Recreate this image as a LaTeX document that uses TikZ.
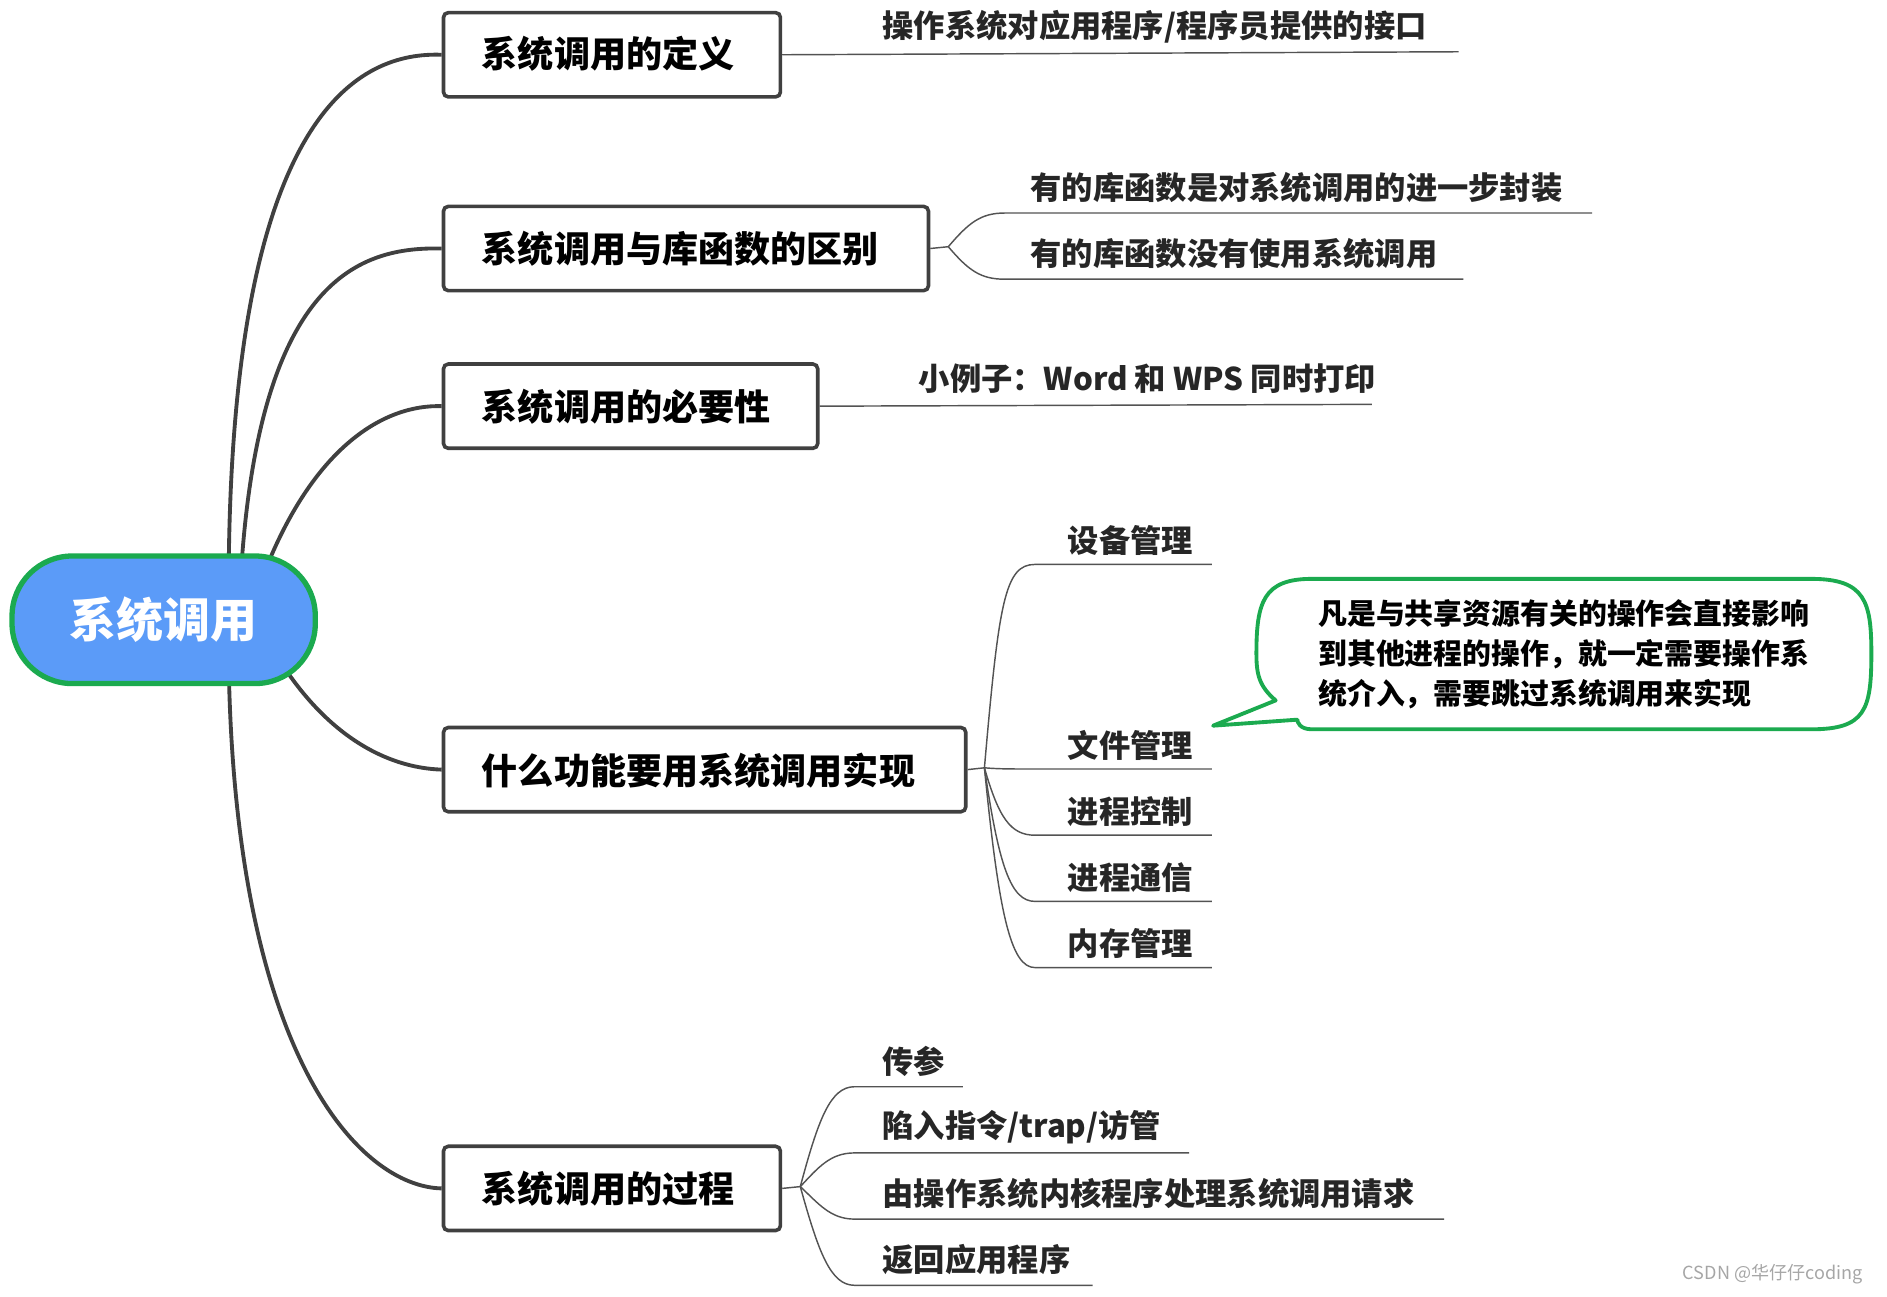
\documentclass[tikz,border=0pt]{standalone}
\usepackage{fontspec}
\setmainfont{Noto Sans CJK SC}
\definecolor{rootblue}{HTML}{5B9BF8}
\definecolor{gr}{HTML}{1BAA4F}
\definecolor{dk}{HTML}{404040}
\begin{document}
\begin{tikzpicture}[x=0.5pt,y=-0.5pt,
  box/.style={draw=dk,line width=1.5pt,rounded corners=2pt,fill=white,anchor=north west,inner sep=0,font=\fontsize{15}{18}\selectfont\bfseries},
  leaf/.style={anchor=west,inner sep=0,font=\fontsize{13}{16}\selectfont\bfseries,text=black!85},
  br/.style={draw=dk,line width=1.6pt},
  ln/.style={draw=dk!90,line width=0.6pt}]
\useasboundingbox (0,0) rectangle (1568,1077);
% boxes
\node[box,minimum width=140pt,minimum height=35pt] (b1) at (367,9) {};
\node[anchor=west,inner sep=0,font=\fontsize{15}{18}\selectfont\bfseries] at (400,45) {系统调用的定义};
\node[box,minimum width=201.5pt,minimum height=35pt] (b2) at (367,170) {};
\node[anchor=west,inner sep=0,font=\fontsize{15}{18}\selectfont\bfseries] at (400,207) {系统调用与库函数的区别};
\node[box,minimum width=155.5pt,minimum height=35pt] (b3) at (367,301) {};
\node[anchor=west,inner sep=0,font=\fontsize{15}{18}\selectfont\bfseries] at (400,338) {系统调用的必要性};
\node[box,minimum width=217pt,minimum height=35pt] (b4) at (367,603) {};
\node[anchor=west,inner sep=0,font=\fontsize{15}{18}\selectfont\bfseries] at (400,640) {什么功能要用系统调用实现};
\node[box,minimum width=140pt,minimum height=35pt] (b5) at (367,951) {};
\node[anchor=west,inner sep=0,font=\fontsize{15}{18}\selectfont\bfseries] at (400,988) {系统调用的过程};
% branches root -> boxes
\draw[br] (190,480) .. controls (192,90) and (300,43) .. (b1.west);
\draw[br] (200,480) .. controls (215,230) and (300,205) .. (b2.west);
\draw[br] (218,480) .. controls (260,370) and (320,336) .. (b3.west);
\draw[br] (230,545) .. controls (270,610) and (320,638) .. (b4.west);
\draw[br] (190,550) .. controls (195,880) and (300,986) .. (b5.west);
% root
\node[draw=gr,line width=2.2pt,fill=rootblue,rounded corners=25pt,minimum width=126pt,minimum height=53pt,text=white,font=\fontsize{19.5}{22}\selectfont\bfseries] (root) at (136,515) {系统调用};
% B1 leaf
\draw[ln] (b1.east) -- (1212,43);
\node[leaf] at (733,22) {操作系统对应用程序/程序员提供的接口};
% B2 leaves
\coordinate (p2) at (788,205);
\draw[ln] (b2.east) -- (p2) .. controls (805,185) and (815,177) .. (835,177) -- (1323,177);
\draw[ln] (p2) .. controls (805,225) and (815,232) .. (835,232) -- (1216,232);
\node[leaf] at (856,156) {有的库函数是对系统调用的进一步封装};
\node[leaf] at (856,211) {有的库函数没有使用系统调用};
% B3 leaf
\draw[ln] (b3.east) -- (1140,336);
\node[leaf] at (763,315) {小例子：Word 和 WPS 同时打印};
% B4 leaves
\coordinate (p4) at (818,638);
\draw[ln] (b4.east) -- (p4);
\draw[ln] (p4) .. controls (830,500) and (835,469) .. (860,469) -- (1007,469);
\draw[ln] (p4) .. controls (830,639) and (840,639) .. (860,639) -- (1007,639);
\draw[ln] (p4) .. controls (830,680) and (840,694) .. (860,694) -- (1007,694);
\draw[ln] (p4) .. controls (830,720) and (840,749) .. (860,749) -- (1007,749);
\draw[ln] (p4) .. controls (830,760) and (840,804) .. (860,804) -- (1007,804);
\node[leaf] at (887,449) {设备管理};
\node[leaf] at (887,619) {文件管理};
\node[leaf] at (887,674) {进程控制};
\node[leaf] at (887,729) {进程通信};
\node[leaf] at (887,784) {内存管理};
% B5 leaves
\coordinate (p5) at (665,986);
\draw[ln] (b5.east) -- (p5);
\draw[ln] (p5) .. controls (680,930) and (690,903) .. (710,903) -- (800,903);
\draw[ln] (p5) .. controls (680,970) and (690,958) .. (710,958) -- (988,958);
\draw[ln] (p5) .. controls (680,1000) and (690,1013) .. (710,1013) -- (1200,1013);
\draw[ln] (p5) .. controls (680,1040) and (690,1068) .. (710,1068) -- (908,1068);
\node[leaf] at (733,882) {传参};
\node[leaf] at (733,937) {陷入指令/trap/访管};
\node[leaf] at (733,992) {由操作系统内核程序处理系统调用请求};
\node[leaf] at (733,1047) {返回应用程序};
% callout
\coordinate (tip) at (1008,603);
\draw[gr,line width=1.6pt,fill=white,line join=round]
  (1090,481) -- (1505,481) .. controls (1550,481) and (1555,500) .. (1555,543)
  .. controls (1555,590) and (1550,606) .. (1505,606) -- (1090,606)
  .. controls (1080,606) and (1078,600) .. (1078,598) -- (tip) -- (1060,582)
  .. controls (1046,570) and (1044,560) .. (1044,543)
  .. controls (1044,500) and (1050,481) .. (1090,481) -- cycle;
\node[anchor=north west,inner sep=0,align=left,font=\fontsize{12}{16.5}\selectfont\bfseries] (ct) at (1095,498) {凡是与共享资源有关的操作会直接影响\\到其他进程的操作，就一定需要操作系\\统介入，需要跳过系统调用来实现};
% watermark
\node[anchor=west,inner sep=0,text=black!35,font=\fontsize{7.5}{9}\selectfont] (wm) at (1398,1059) {CSDN @华仔仔coding};
\end{tikzpicture}
\end{document}
